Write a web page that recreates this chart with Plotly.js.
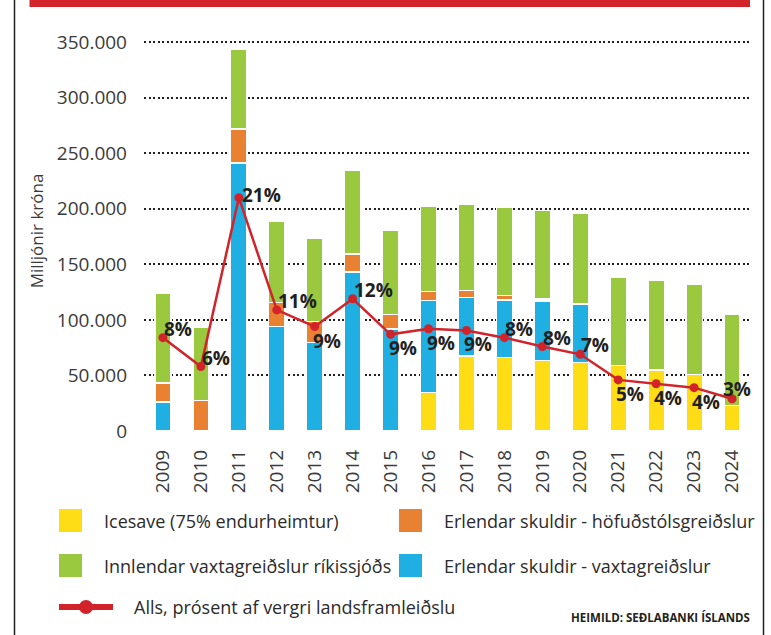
<!DOCTYPE html>
<html>
<head>
<meta charset="utf-8">
<script src="https://cdn.plot.ly/plotly-3.0.1.min.js"></script>
<style>html,body{margin:0;padding:0;background:#fff;}#chart{width:771px;height:635px;}</style>
</head>
<body>
<div id="chart"></div>
<script>
// ---- Data (milljónir króna) ----
const years = ['2009','2010','2011','2012','2013','2014','2015','2016','2017','2018','2019','2020','2021','2022','2023','2024'];
const icesave   = [0, 0, 0, 0, 0, 0, 0, 34500, 67500, 66000, 63500, 61500, 59000, 55000, 51000, 23000];
const erlVaxta  = [26000, 0, 241000, 94000, 79500, 143000, 92000, 83000, 52500, 52000, 53500, 53000, 0, 0, 0, 0];
const erlHofud  = [17000, 27500, 31000, 21500, 19000, 16500, 13000, 8000, 6500, 4000, 2000, 0, 0, 0, 0, 0];
const innlVaxta = [81000, 65500, 72000, 73500, 75000, 75000, 76000, 77000, 78000, 79000, 79500, 81500, 79500, 80500, 81500, 82500];
const allsPct   = [8.4, 5.8, 21.0, 10.9, 9.4, 11.9, 8.7, 9.2, 9.05, 8.4, 7.6, 6.9, 4.6, 4.25, 3.9, 2.9];
const pctLabelPos = ['above','above','right','above','below','above','below','below','below','above','above','above','below','below','below','aboveleft'];

const names = {
  icesave: 'Icesave (75% endurheimtur)',
  erlHofud: 'Erlendar skuldir - höfuðstólsgreiðslur',
  innlVaxta: 'Innlendar vaxtagreiðslur ríkissjóðs',
  erlVaxta: 'Erlendar skuldir - vaxtagreiðslur',
  alls: 'Alls, prósent af vergri landsframleiðslu'
};
const colors = {icesave:'#fedd17', erlHofud:'#e98133', innlVaxta:'#9ac83f', erlVaxta:'#1fafe2', alls:'#d2232a'};

const yTicks = [0, 50000, 100000, 150000, 200000, 250000, 300000, 350000];

// ---- Layout geometry ----
const W = 771, H = 635;
const M = {l:144, r:20, t:31, b:204};
const pw = W - M.l - M.r, ph = H - M.t - M.b;
const X = px => (px - M.l) / pw;
const Y = py => (H - M.b - py) / ph;

function barTrace(key, vals){
  return {type:'bar', x:years, y:vals, name:names[key], width:0.43,
    marker:{color:colors[key], line:{color:'#ffffff', width:1.5}},
    hoverinfo:'skip', showlegend:false};
}
const traces = [
  barTrace('icesave', icesave),
  barTrace('erlVaxta', erlVaxta),
  barTrace('erlHofud', erlHofud),
  barTrace('innlVaxta', innlVaxta),
  {type:'scatter', mode:'lines+markers', x:years, y:allsPct, yaxis:'y2', name:names.alls,
   line:{color:colors.alls, width:2.5}, marker:{color:colors.alls, size:9},
   cliponaxis:false, hoverinfo:'skip', showlegend:false}
];

const shapes = [
  {type:'rect', xref:'paper', yref:'paper', x0:X(29.5), x1:X(750), y0:Y(0), y1:Y(7), fillcolor:'#d2232a', line:{width:0}},
  {type:'line', xref:'paper', yref:'paper', x0:X(14.5), x1:X(14.5), y0:Y(0), y1:Y(635), line:{color:'#231f20', width:1.5}},
  {type:'line', xref:'paper', yref:'paper', x0:X(763.5), x1:X(763.5), y0:Y(0), y1:Y(635), line:{color:'#231f20', width:1.5}}
];
const annotations = [];

// percentage labels on the line (x given as category index)
const labelOffsets = {above:{dx:-1, dy:9}, below:{dx:-4, dy:-14}, right:{dx:1, dy:3}, aboveleft:{dx:-11, dy:10}};
allsPct.forEach((v, i) => {
  const o = labelOffsets[pctLabelPos[i]];
  annotations.push({x:i, y:v, xref:'x', yref:'y2', text:Math.round(v) + '%', showarrow:false,
    xanchor:'left', yanchor:'middle', xshift:o.dx, yshift:o.dy,
    font:{family:'Open Sans', size:19, color:'#231f20', weight:700}});
});

// legend drawn as shapes + annotations
const legendItems = [
  {key:'icesave', x:59, y:520.5},
  {key:'erlHofud', x:399, y:520.5},
  {key:'innlVaxta', x:59, y:565.5},
  {key:'erlVaxta', x:399, y:565.5}
];
legendItems.forEach(it => {
  shapes.push({type:'rect', xref:'paper', yref:'paper', x0:X(it.x), x1:X(it.x+23), y0:Y(it.y+11.5), y1:Y(it.y-11.5),
    fillcolor:colors[it.key], line:{width:0}});
  annotations.push({xref:'paper', yref:'paper', x:X(it.x+43), y:Y(it.y), text:names[it.key], showarrow:false,
    xanchor:'left', yanchor:'middle', font:{family:'Open Sans', size:18, color:'#2b2b2b'}});
});
shapes.push({type:'line', xref:'paper', yref:'paper', x0:X(59), x1:X(113), y0:Y(607), y1:Y(607), line:{color:colors.alls, width:6}});
shapes.push({type:'circle', xref:'paper', yref:'paper', x0:X(79), x1:X(93), y0:Y(614), y1:Y(600), fillcolor:colors.alls, line:{width:0}});
annotations.push({xref:'paper', yref:'paper', x:X(132), y:Y(607), text:names.alls, showarrow:false,
  xanchor:'left', yanchor:'middle', font:{family:'Open Sans', size:18, color:'#2b2b2b'}});
annotations.push({xref:'paper', yref:'paper', x:X(752), y:Y(617.5), text:'HEIMILD: SEÐLABANKI ÍSLANDS', showarrow:false,
  xanchor:'right', yanchor:'middle', font:{family:'Open Sans', size:11.5, color:'#231f20', weight:700}});

const layout = {
  width:W, height:H, margin:M, paper_bgcolor:'#ffffff', plot_bgcolor:'#ffffff',
  barmode:'stack', separators:',.', showlegend:false,
  font:{family:'Open Sans', color:'#3a3a3a'},
  xaxis:{type:'category', range:[-0.5, 15.5], tickangle:-90, showgrid:false, zeroline:false, showline:false,
    ticks:'', ticklabelstandoff:14, tickfont:{family:'Open Sans', size:19, color:'#3a3a3a'}},
  yaxis:{range:[0, 360000], tickvals:yTicks, tickformat:',d', showgrid:true, gridcolor:'#231f20', gridwidth:2,
    griddash:'2px,2.5px', zeroline:false, showline:false, ticks:'', ticklabelstandoff:16,
    tickfont:{family:'Open Sans', size:19, color:'#3a3a3a'},
    title:{text:'Milljónir króna', standoff:8, font:{family:'Open Sans', size:17, color:'#3a3a3a'}}},
  yaxis2:{overlaying:'y', side:'right', range:[0, 36], showgrid:false, zeroline:false, showticklabels:false, ticks:''},
  shapes:shapes, annotations:annotations
};
Plotly.newPlot('chart', traces, layout, {displayModeBar:false, staticPlot:true});
</script>
</body>
</html>
